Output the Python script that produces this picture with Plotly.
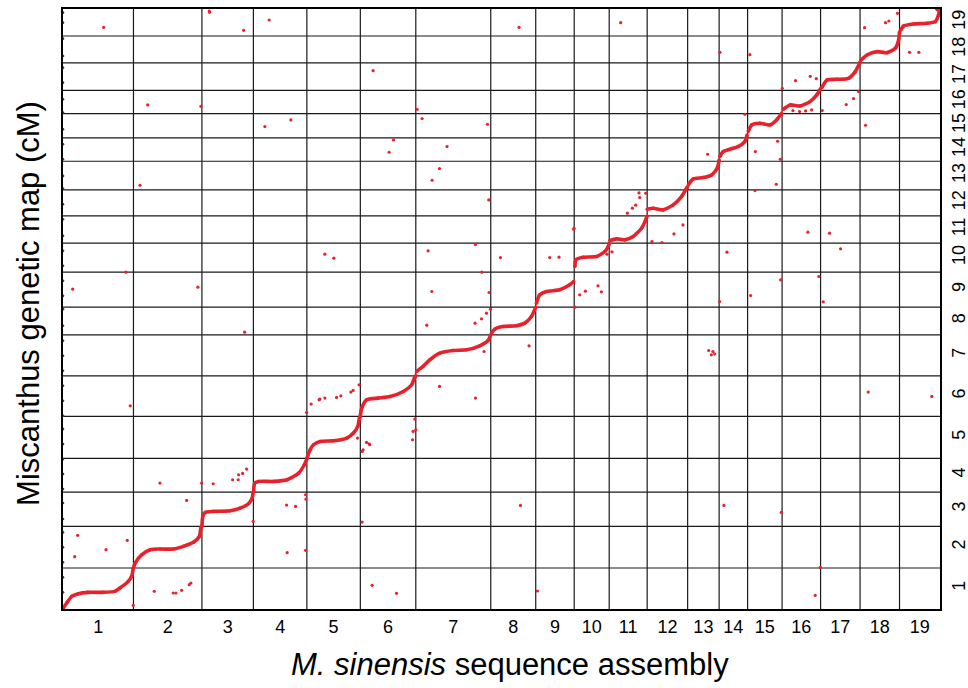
import plotly.graph_objects as go

# ---------------- data ----------------
chrom_names = [str(i) for i in range(1, 20)]
chrom_len_mb = [141, 137, 103, 107, 107, 111, 150, 90, 77, 70, 76, 81, 63, 57, 69, 77, 79, 79, 81]
lg_names = [str(i) for i in range(1, 20)]
lg_len_cm = [123, 125, 103, 101, 126, 122, 123, 83, 105, 87, 82, 78, 86, 70, 73, 70, 82, 81, 81]

# main collinear markers: position on chromosome (Mb) vs position on linkage group (cM)
c1_mb = [0.6, 7.4, 17.4, 30.6, 50, 80, 104, 114, 130.6, 137.4, 140.6]
c1_cm = [3, 18, 38, 46, 50, 50, 53, 63, 83, 98, 123]
c2_mb = [0, 3.4, 16.8, 33.4, 53.4, 80, 100, 120, 132, 134.8, 136.8]
c2_cm = [0, 15, 40, 55, 57, 57, 65, 77, 95, 120, 125]
c3_mb = [0, 2, 6.6, 23.2, 56.6, 76.6, 93.2, 100.6, 102.6]
c3_cm = [0, 32, 42, 45, 47, 55, 68, 85, 103]
c4_mb = [0.6, 2.6, 10.6, 40.6, 67.4, 90.6, 102, 107.4]
c4_cm = [2, 27, 32, 32, 37, 57, 82, 101]
c5_mb = [0, 6.6, 13.2, 26.6, 53.2, 80, 93.2, 102, 105.2, 107.2]
c5_cm = [0, 26, 41, 51, 53, 61, 76, 96, 121, 126]
c6_mb = [0, 2.8, 12.8, 36, 59.4, 86, 102.8, 109.4, 111.4]
c6_cm = [2, 25, 50, 55, 60, 75, 95, 120, 122]
c7_mb = [1.4, 14.6, 28, 48, 74.6, 101.4, 128, 144.6, 150]
c7_cm = [13, 28, 48, 68, 76, 78, 90, 106, 123]
c8_mb = [1.4, 8, 24.6, 51.4, 68, 81.4, 90]
c8_cm = [5, 17, 25, 27, 35, 55, 83]
c9_mb = [1.4, 8, 21.4, 48, 68, 76]
c9_cm = [12, 37, 47, 52, 67, 77]
c10_mb = [1.4, 3.4, 18, 44.8, 61.4, 68, 70]
c10_cm = [17, 37, 45, 47, 62, 77, 85]
c11_mb = [1.4, 14.8, 31.4, 48, 64.8, 71.4, 76]
c11_cm = [8, 13, 10, 20, 45, 64, 82]
c12_mb = [0, 12, 32, 52, 68.8, 78.8, 80.8]
c12_cm = [20, 23, 18, 33, 58, 83, 87]
c13_mb = [1.2, 11.2, 31.2, 48, 59.2, 63.2]
c13_cm = [15, 33, 37, 45, 65, 90]
c14_mb = [1.4, 8, 21.4, 38, 51.4, 56]
c14_cm = [14, 29, 36, 44, 59, 79]
c15_mb = [1.2, 8, 24.6, 44.6, 58, 68]
c15_cm = [19, 39, 44, 39, 54, 74]
c16_mb = [2.6, 16, 36, 56, 69.4, 77.4]
c16_cm = [13, 26, 23, 36, 56, 76]
c17_mb = [2.8, 12.8, 32.8, 56, 69.4, 79.4]
c17_cm = [9, 31, 33, 36, 56, 86]
c18_mb = [2, 14, 34, 54, 70.6, 77.2, 79]
c18_cm = [9, 24, 34, 31, 44, 69, 94]
c19_mb = [2.8, 8, 28, 54.8, 71.4, 78, 80]
c19_cm = [18, 30, 36, 38, 43, 63, 78]

# off-diagonal markers, in cumulative genome (Mb) and cumulative map (cM) coordinates
outlier_genome_mb = [
    81.4, 292.6, 293.4, 361.4, 412.6, 169.4, 276, 404, 456, 154, 912.6, 1116, 620.6, 708.6, 718.6,
    849.4, 661.4, 652.6, 768.6, 753.4, 738.6, 852, 1152.6, 1166, 1154, 1146, 1139.4, 1129.4, 1022,
    1670, 1604, 1646, 1652.6, 1314.6, 1374.6, 1694, 1712.6, 1466, 1495.4, 1507.4, 1439.4, 1592, 1582,
    1567.4, 1519.4, 1460.6, 1364.6, 1606, 1430, 1385.4, 1290, 1435.4, 1427.4, 1384.6, 1240.6, 19.4,
    126, 270, 363.4, 524, 134.6, 496.6, 512.6, 524, 487.4, 542, 730.6, 825.4, 875.4, 974, 992.6, 838,
    738, 852.6, 855.4, 847.4, 837.4, 824.6, 728, 842.6, 932.6, 1022.6, 1070.6, 1077.4, 1034, 1045.4,
    1024.6, 1098.6, 1088.6, 514, 547.4, 556, 576, 580.6, 592.6, 753.4, 825.4, 594, 589.4, 704, 700.6,
    699.4, 607.4, 614, 706, 1222.6, 1178.6, 1198.6, 1490.6, 1534, 1556, 1328.6, 1436, 1512.6, 1376,
    1314, 1521.4, 1292, 1300.6, 1297.4, 1304, 1611.4, 1738.6, 29.4, 23.4, 86, 128.6, 194, 247.4,
    277.4, 300.6, 339.4, 350.6, 351.4, 359.4, 367.4, 380.6, 447.4, 465.4, 448.6, 485.4, 182.6, 220.6,
    226, 237.4, 252.6, 256, 140.6, 485.4, 486, 598.6, 600.6, 612.6, 598.6, 618.6, 667.4, 915.4, 949.4,
    1322.6, 1437.4, 1515.4, 1505.4, 1474, 1486, 1498, 1748, 1750,
]
outlier_map_cm = [
    1746, 1795, 1791, 1737, 1768, 1513, 1509, 1448, 1468, 1272, 1746, 1760, 1616, 1500, 1472,
    1455, 1408, 1371, 1388, 1322, 1287, 1228, 1249, 1248, 1235, 1212, 1203, 1188, 1140,
    1788, 1745, 1760, 1765, 1671, 1664, 1671, 1671, 1586, 1599, 1592, 1563, 1553, 1532,
    1514, 1496, 1496, 1485, 1452, 1404, 1373, 1365, 1350, 1275, 1256, 1153, 960,
    1011, 966, 831, 1065, 610, 615, 628, 633, 590, 1053, 1075, 1094, 1055, 1055, 1056, 1011,
    953, 950, 900, 888, 871, 858, 852, 773, 790, 1143, 970, 952, 943, 954,
    906, 1072, 1065, 630, 635, 640, 651, 656, 673, 668, 633, 570, 513, 570, 533,
    508, 500, 493, 538, 1126, 1103, 1100, 1131, 1128, 1081, 1071, 988, 998, 941,
    923, 922, 776, 773, 763, 766, 651, 638, 221, 157, 178, 206, 378, 326,
    378, 376, 388, 388, 403, 407, 420, 263, 312, 308, 169, 176, 53, 48,
    48, 56, 73, 78, 11, 343, 330, 473, 478, 496, 261, 71, 47, 311, 54,
    311, 290, 125, 41, 1493, 1495, 1498, 1801, 1798,
]

# markers without a physical position (plotted at 0 Mb)
unplaced_map_cm = [1790, 1760, 1712, 1660, 1625, 1580, 1530, 1490, 1440, 1395, 1350, 1300, 1262,
                   1215, 1170, 1120, 1075, 1030, 985, 940, 900, 850, 805, 760, 715, 670, 625, 580,
                   540, 495, 450, 405, 360, 318, 270, 230, 185, 140, 95, 50]

# ---------------- figure ----------------
RED = "#E8212B"
chrom_start = [sum(chrom_len_mb[:i]) for i in range(len(chrom_len_mb))]
lg_start = [sum(lg_len_cm[:i]) for i in range(len(lg_len_cm))]
total_mb = sum(chrom_len_mb)
total_cm = sum(lg_len_cm)

curves_mb = [c1_mb, c2_mb, c3_mb, c4_mb, c5_mb, c6_mb, c7_mb, c8_mb, c9_mb, c10_mb,
             c11_mb, c12_mb, c13_mb, c14_mb, c15_mb, c16_mb, c17_mb, c18_mb, c19_mb]
curves_cm = [c1_cm, c2_cm, c3_cm, c4_cm, c5_cm, c6_cm, c7_cm, c8_cm, c9_cm, c10_cm,
             c11_cm, c12_cm, c13_cm, c14_cm, c15_cm, c16_cm, c17_cm, c18_cm, c19_cm]

xs, ys = [], []
for i, (mb, cm) in enumerate(zip(curves_mb, curves_cm)):
    xs += [chrom_start[i] + v for v in mb] + [None]
    ys += [lg_start[i] + v for v in cm] + [None]

fig = go.Figure()

# boundary grid lines
shapes = []
for b in chrom_start[1:]:
    shapes.append(dict(type="line", xref="x", yref="paper", x0=b, x1=b, y0=0, y1=1,
                       line=dict(color="#1a1a1a", width=1.2), layer="below"))
for b in lg_start[1:]:
    shapes.append(dict(type="line", xref="paper", yref="y", x0=0, x1=1, y0=b, y1=b,
                       line=dict(color="#1a1a1a", width=1.2), layer="below"))

fig.add_trace(go.Scatter(x=[0] * len(unplaced_map_cm), y=unplaced_map_cm, mode="markers",
                         marker=dict(color="#A0141C", size=2.6), hoverinfo="skip", cliponaxis=False))
fig.add_trace(go.Scatter(x=xs, y=ys, mode="lines+markers", connectgaps=False,
                         line=dict(color=RED, width=3.6, shape="spline", smoothing=0.6),
                         marker=dict(color=RED, size=3.5), hoverinfo="skip"))
fig.add_trace(go.Scatter(x=outlier_genome_mb, y=outlier_map_cm, mode="markers",
                         marker=dict(color=RED, size=3.2), hoverinfo="skip", cliponaxis=False))

x_mid = [chrom_start[i] + chrom_len_mb[i] / 2 for i in range(len(chrom_len_mb))]
y_mid = [lg_start[i] + lg_len_cm[i] / 2 for i in range(len(lg_len_cm))]

FONT = "Liberation Sans, Arial, Helvetica, sans-serif"
fig.update_layout(
    width=968, height=688,
    margin=dict(l=63, r=28, t=9, b=79, autoexpand=False),
    paper_bgcolor="white", plot_bgcolor="white",
    showlegend=False,
    font=dict(family=FONT, color="black"),
    shapes=shapes,
    xaxis=dict(range=[0, total_mb], tickmode="array", tickvals=x_mid, ticktext=chrom_names,
               showgrid=False, zeroline=False, showline=True, mirror=True,
               linecolor="black", linewidth=2, ticks="", tickfont=dict(size=18, family=FONT),
               ticklabelstandoff=0, fixedrange=True),
    yaxis=dict(range=[0, total_cm], side="right", tickmode="array", tickvals=y_mid,
               ticktext=lg_names, tickangle=-90, showgrid=False, zeroline=False,
               showline=True, mirror=True, linecolor="black", linewidth=2, ticks="",
               tickfont=dict(size=18, family=FONT), ticklabelstandoff=1, fixedrange=True),
    annotations=[
        dict(text="<i>M. sinensis</i> sequence assembly", xref="paper", yref="paper",
             x=0.51, y=-0.093, xanchor="center", yanchor="middle", showarrow=False,
             font=dict(size=31, family=FONT, color="black")),
        dict(text="Miscanthus genetic map (cM)", xref="paper", yref="paper",
             x=-0.04, y=0.51, xanchor="center", yanchor="middle", textangle=-90,
             showarrow=False, font=dict(size=31, family=FONT, color="black")),
    ],
)

fig.write_html("out.html")
